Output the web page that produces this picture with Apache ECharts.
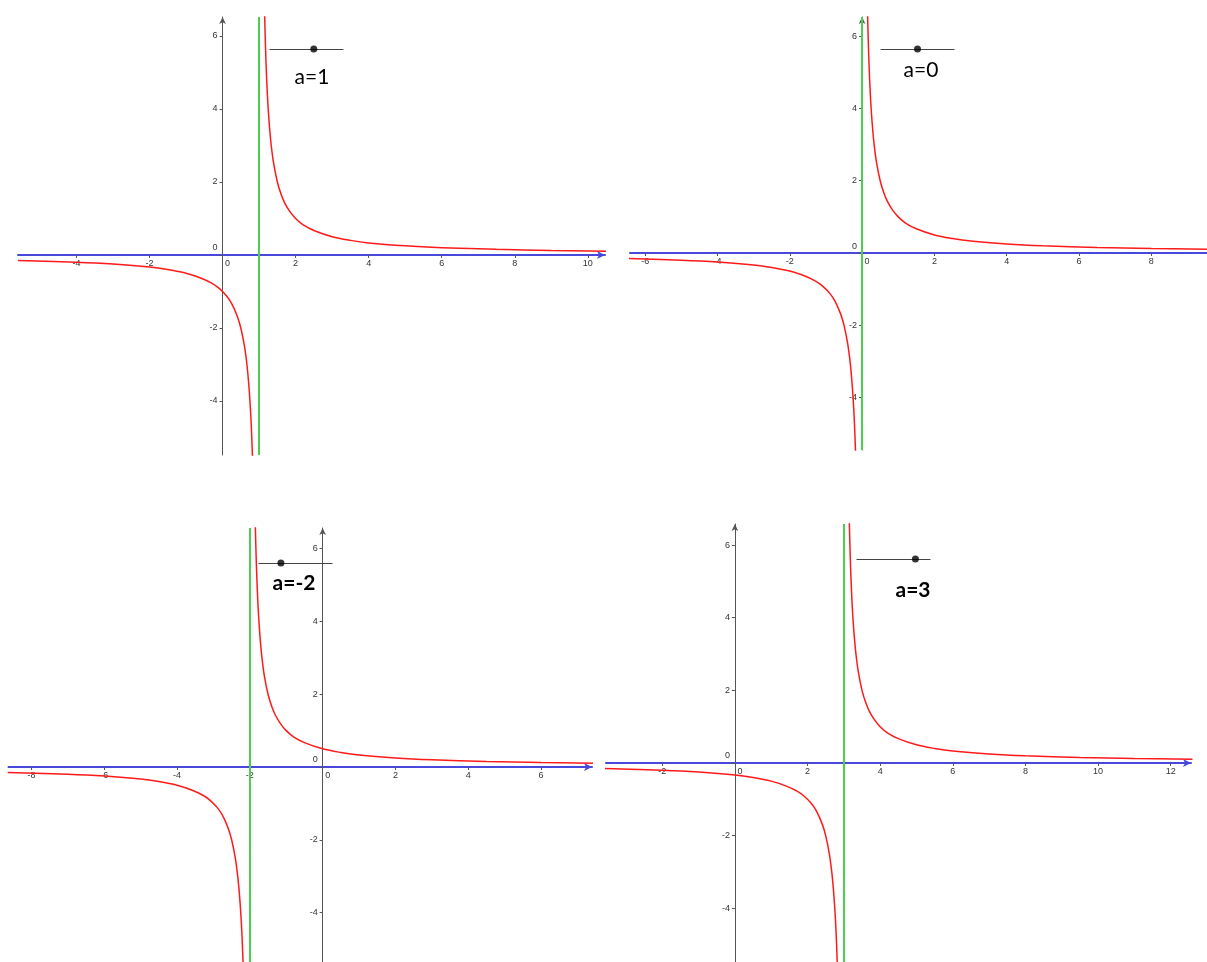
<!DOCTYPE html>
<html>
<head>
<meta charset="utf-8">
<title>y=1/(x-a)</title>
<script src="https://cdn.jsdelivr.net/npm/echarts@6/dist/echarts.min.js"></script>
<style>
html,body{margin:0;padding:0;background:#fff;}
#main{width:1207px;height:962px;}
</style>
</head>
<body>
<div id="main"></div>
<script>
//参数a (每个小图一个)
var aValues = [1, 0, -2, 3];
//滑块的取值范围
var sliderRange = [-5, 5];
//坐标轴显示范围
var xRanges = [[-5.6, 10.47], [-6.42, 9.54], [-8.63, 7.4], [-3.55, 12.56]];
var yRanges = [[-5.48, 6.52], [-5.45, 6.53], [-5.36, 6.57], [-5.48, 6.58]];
//刻度标签
var xTickValues = [
	[-4, -2, 0, 2, 4, 6, 8, 10],
	[-6, -4, -2, 0, 2, 4, 6, 8],
	[-8, -6, -4, -2, 0, 2, 4, 6],
	[-2, 0, 2, 4, 6, 8, 10, 12]
];
var yTickValues = [-4, -2, 0, 2, 4, 6];

//红色曲线, 从图上读出来的点 (右支 / 左支)
var rightBranch1 = [[1.143,7],[1.154,6.5],[1.167,6],[1.182,5.5],[1.2,5],[1.222,4.5],[1.25,4],[1.286,3.5],[1.333,3],[1.4,2.5],[1.5,2],[1.6,1.67],[1.7,1.43],[1.85,1.18],[2,1],[2.2,0.83],[2.5,0.67],[3,0.5],[3.5,0.4],[4,0.33],[5,0.25],[6,0.2],[7.5,0.154],[9,0.125],[10.5,0.105]];
var leftBranch1 = [[-5.6,-0.15],[-4,-0.2],[-3,-0.25],[-2,-0.33],[-1.5,-0.4],[-1,-0.5],[-0.6,-0.63],[-0.3,-0.77],[-0.1,-0.91],[0.1,-1.11],[0.25,-1.33],[0.4,-1.67],[0.5,-2],[0.6,-2.5],[0.667,-3],[0.714,-3.5],[0.75,-4],[0.778,-4.5],[0.8,-5],[0.818,-5.5],[0.825,-5.7]];
var rightBranch2 = [[0.143,7],[0.154,6.5],[0.167,6],[0.182,5.5],[0.2,5],[0.222,4.5],[0.25,4],[0.286,3.5],[0.333,3],[0.4,2.5],[0.5,2],[0.6,1.67],[0.7,1.43],[0.85,1.18],[1,1],[1.2,0.83],[1.5,0.67],[2,0.5],[2.5,0.4],[3,0.33],[4,0.25],[5,0.2],[6.5,0.154],[8,0.125],[9.6,0.104]];
var leftBranch2 = [[-6.45,-0.155],[-5,-0.2],[-4,-0.25],[-3,-0.33],[-2.5,-0.4],[-2,-0.5],[-1.6,-0.63],[-1.3,-0.77],[-1.1,-0.91],[-0.9,-1.11],[-0.75,-1.33],[-0.6,-1.67],[-0.5,-2],[-0.4,-2.5],[-0.333,-3],[-0.286,-3.5],[-0.25,-4],[-0.222,-4.5],[-0.2,-5],[-0.182,-5.5],[-0.175,-5.7]];
var rightBranch3 = [[-1.857,7],[-1.846,6.5],[-1.833,6],[-1.818,5.5],[-1.8,5],[-1.778,4.5],[-1.75,4],[-1.714,3.5],[-1.667,3],[-1.6,2.5],[-1.5,2],[-1.4,1.67],[-1.3,1.43],[-1.15,1.18],[-1,1],[-0.8,0.83],[-0.5,0.67],[0,0.5],[0.5,0.4],[1,0.33],[2,0.25],[3,0.2],[4.5,0.154],[6,0.125],[7.45,0.106]];
var leftBranch3 = [[-8.65,-0.15],[-7,-0.2],[-6,-0.25],[-5,-0.33],[-4.5,-0.4],[-4,-0.5],[-3.6,-0.63],[-3.3,-0.77],[-3.1,-0.91],[-2.9,-1.11],[-2.75,-1.33],[-2.6,-1.67],[-2.5,-2],[-2.4,-2.5],[-2.333,-3],[-2.286,-3.5],[-2.25,-4],[-2.222,-4.5],[-2.2,-5],[-2.182,-5.5],[-2.175,-5.7]];
var rightBranch4 = [[3.143,7],[3.154,6.5],[3.167,6],[3.182,5.5],[3.2,5],[3.222,4.5],[3.25,4],[3.286,3.5],[3.333,3],[3.4,2.5],[3.5,2],[3.6,1.67],[3.7,1.43],[3.85,1.18],[4,1],[4.2,0.83],[4.5,0.67],[5,0.5],[5.5,0.4],[6,0.33],[7,0.25],[8,0.2],[9.5,0.154],[11,0.125],[12.6,0.105]];
var leftBranch4 = [[-3.6,-0.15],[-2,-0.2],[-1,-0.25],[0,-0.33],[0.5,-0.4],[1,-0.5],[1.4,-0.63],[1.7,-0.77],[1.9,-0.91],[2.1,-1.11],[2.25,-1.33],[2.4,-1.67],[2.5,-2],[2.6,-2.5],[2.667,-3],[2.714,-3.5],[2.75,-4],[2.778,-4.5],[2.8,-5],[2.818,-5.5],[2.825,-5.7]];

var rightBranches = [rightBranch1, rightBranch2, rightBranch3, rightBranch4];
var leftBranches = [leftBranch1, leftBranch2, leftBranch3, leftBranch4];

//版面位置 (像素)
var panelBoxes = [
	{left: 18, top: 17, width: 587, height: 438},
	{left: 630, top: 17, width: 577, height: 433},
	{left: 8.5, top: 528, width: 583.5, height: 434},
	{left: 606, top: 524, width: 585, height: 438}
];
var sliderBoxes = [
	{left: 270, y: 49},
	{left: 881, y: 49},
	{left: 259, y: 563},
	{left: 857, y: 559}
];
//a=.. 文字位置和字体
var labelPos = [
	{x: 312, y: 77, bold: false},
	{x: 921, y: 70, bold: false},
	{x: 294, y: 583, bold: true},
	{x: 913, y: 590, bold: true}
];
//第二个图x轴箭头被裁掉了
var xArrowShow = [true, false, true, true];

var RED = '#ff1a1a';
var GREEN = '#4ccf4c';
var BLUE = '#4848dc';
var AXIS_GRAY = '#555';
var LABEL_FONT = 'Liberation Sans';

var myChart = echarts.init(document.getElementById('main'), null, {renderer: 'canvas'});

var option = {
	backgroundColor: '#fff',
	animation: false,
	grid: [],
	xAxis: [],
	yAxis: [],
	series: [],
	graphic: []
};

//坐标轴移到0的位置 (标签跟着走), 用offset而不是onZero
function zero_offset(range, size)
{
	return -((0 - range[0]) / (range[1] - range[0])) * size;
}

//主坐标系
function add_panel(i)
{
	var box = panelBoxes[i];
	var gi = option.grid.length;
	option.grid.push({
		left: box.left, top: box.top, width: box.width, height: box.height,
		containLabel: false, outerBoundsMode: 'none', show: false
	});
	option.xAxis.push({
		type: 'value', gridIndex: gi, position: 'bottom',
		offset: zero_offset(yRanges[i], box.height),
		min: xRanges[i][0], max: xRanges[i][1],
		axisLine: {
			show: true, onZero: false,
			symbol: xArrowShow[i] ? ['none', 'arrow'] : ['none', 'none'],
			symbolSize: [6, 8],
			lineStyle: {color: BLUE, width: 2}
		},
		axisTick: {show: true, length: 3, customValues: xTickValues[i], lineStyle: {color: AXIS_GRAY}},
		axisLabel: {
			customValues: xTickValues[i], margin: 4,
			fontSize: 9, color: '#333', fontFamily: LABEL_FONT,
			formatter: function (v) { return v === 0 ? '{z|0}' : String(v); },
			rich: {z: {padding: [0, 0, 0, 10], fontSize: 9, color: '#333', fontFamily: LABEL_FONT}}
		},
		splitLine: {show: false}
	});
	option.yAxis.push({
		type: 'value', gridIndex: gi, position: 'left',
		offset: zero_offset(xRanges[i], box.width),
		min: yRanges[i][0], max: yRanges[i][1],
		axisLine: {
			show: true, onZero: false,
			symbol: ['none', 'arrow'], symbolSize: [5, 7],
			lineStyle: {color: AXIS_GRAY, width: 1}
		},
		axisTick: {show: true, length: 3, customValues: yTickValues, lineStyle: {color: AXIS_GRAY}},
		axisLabel: {
			customValues: yTickValues, margin: 5,
			fontSize: 9, color: '#333', fontFamily: LABEL_FONT,
			formatter: function (v) { return v === 0 ? '{z|0}' : String(v); },
			rich: {z: {padding: [0, 0, 14, 0], fontSize: 9, color: '#333', fontFamily: LABEL_FONT}}
		},
		splitLine: {show: false}
	});
	//右支, 带渐近线 x=a
	option.series.push({
		type: 'line', xAxisIndex: gi, yAxisIndex: gi,
		data: rightBranches[i], showSymbol: false, smooth: 0.35,
		clip: true, silent: true, z: 3,
		lineStyle: {color: RED, width: 1.5},
		markLine: {
			silent: true, symbol: ['none', 'none'], animation: false,
			label: {show: false},
			lineStyle: {color: GREEN, width: 2, type: 'solid'},
			data: [{xAxis: aValues[i]}]
		}
	});
	//左支
	option.series.push({
		type: 'line', xAxisIndex: gi, yAxisIndex: gi,
		data: leftBranches[i], showSymbol: false, smooth: 0.35,
		clip: true, silent: true, z: 3,
		lineStyle: {color: RED, width: 1.5}
	});
}

//滑块 (-5..5), 点在 a 处
function add_slider(i)
{
	var sb = sliderBoxes[i];
	var gi = option.grid.length;
	option.grid.push({
		left: sb.left, top: sb.y - 5, width: 73, height: 10,
		containLabel: false, outerBoundsMode: 'none', show: false
	});
	option.xAxis.push({
		type: 'value', gridIndex: gi, min: sliderRange[0], max: sliderRange[1],
		axisLine: {show: true, onZero: true, lineStyle: {color: '#444', width: 1.2}},
		axisTick: {show: false}, axisLabel: {show: false}, splitLine: {show: false}
	});
	option.yAxis.push({
		type: 'value', gridIndex: gi, min: -1, max: 1, show: false,
		splitLine: {show: false}
	});
	option.series.push({
		type: 'scatter', xAxisIndex: gi, yAxisIndex: gi,
		data: [[aValues[i], 0]], symbolSize: 7, silent: true,
		itemStyle: {color: '#000'}
	});
	var lp = labelPos[i];
	option.graphic.push({
		type: 'text', x: lp.x, y: lp.y, silent: true,
		style: {
			text: 'a=' + aValues[i],
			fill: '#000',
			font: (lp.bold ? 'bold ' : '') + '21px Lato',
			align: 'center', verticalAlign: 'middle'
		}
	});
}

for (var i = 0; i < aValues.length; i++) {
	add_panel(i);
	add_slider(i);
}

myChart.setOption(option);
</script>
</body>
</html>
